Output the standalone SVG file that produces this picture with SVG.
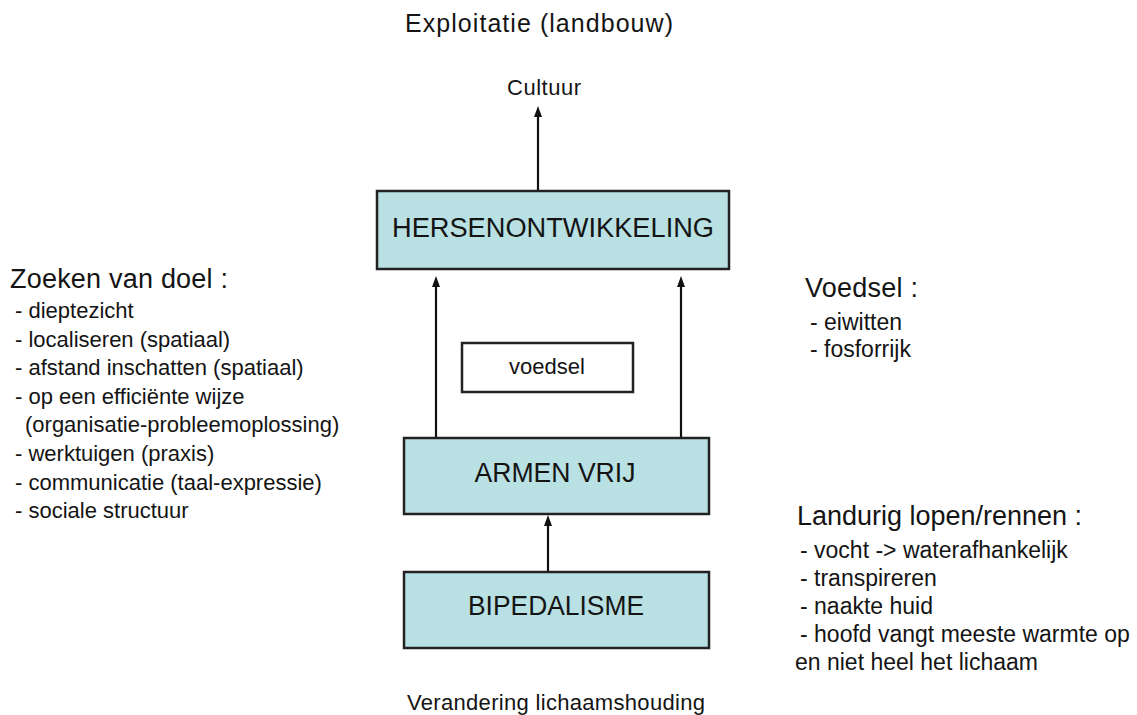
<svg xmlns="http://www.w3.org/2000/svg" width="1137" height="715" viewBox="0 0 1137 715">
<style>
text{font-family:"Liberation Sans",Arial,sans-serif;fill:#141414}
.box{fill:#b9e0e2;stroke:#222;stroke-width:2.5}
.wbox{fill:#fff;stroke:#222;stroke-width:2.5}
.big{font-size:27px}
.head{font-size:27px}
.item{font-size:22px}
.ritem{font-size:23px}
.conn{stroke:#111;stroke-width:2.2;fill:none}
.tip{fill:#111}
</style>
<rect width="1137" height="715" fill="#fff"/>

<g id="connectors">
<line class="conn" x1="538" y1="191" x2="538" y2="115"/>
<path class="tip" d="M538 106 L542 117 L534 117 Z"/>
<line class="conn" x1="436" y1="438" x2="436" y2="285"/>
<path class="tip" d="M436 276 L440 287 L432 287 Z"/>
<line class="conn" x1="681" y1="438" x2="681" y2="285"/>
<path class="tip" d="M681 276 L685 287 L677 287 Z"/>
<line class="conn" x1="548" y1="572" x2="548" y2="524"/>
<path class="tip" d="M548 515 L552 526 L544 526 Z"/>
</g>

<g id="title">
<text x="405" y="32" font-size="25" textLength="268" lengthAdjust="spacing">Exploitatie (landbouw)</text>
</g>
<g id="cultuur">
<text x="507" y="95" font-size="22" textLength="74" lengthAdjust="spacing">Cultuur</text>
</g>

<g id="hersenontwikkeling">
<rect class="box" x="377" y="191" width="352" height="78"/>
<text class="big" x="553" y="237" text-anchor="middle" textLength="322" lengthAdjust="spacingAndGlyphs">HERSENONTWIKKELING</text>
</g>

<g id="voedsel-box">
<rect class="wbox" x="462" y="343" width="171" height="49"/>
<text x="547" y="374" font-size="22" text-anchor="middle">voedsel</text>
</g>

<g id="armen-vrij">
<rect class="box" x="404" y="438" width="305" height="76"/>
<text class="big" x="555" y="482" text-anchor="middle" textLength="161" lengthAdjust="spacingAndGlyphs">ARMEN VRIJ</text>
</g>

<g id="bipedalisme">
<rect class="box" x="404" y="572" width="305" height="76"/>
<text class="big" x="556" y="615" text-anchor="middle" textLength="176" lengthAdjust="spacingAndGlyphs">BIPEDALISME</text>
</g>

<g id="verandering">
<text x="407" y="710" font-size="22" textLength="298" lengthAdjust="spacing">Verandering  lichaamshouding</text>
</g>

<g id="zoeken">
<text class="head" x="10" y="288" textLength="218" lengthAdjust="spacing">Zoeken van doel :</text>
<text class="item" x="15" y="318">- dieptezicht</text>
<text class="item" x="15" y="347">- localiseren (spatiaal)</text>
<text class="item" x="15" y="375">- afstand inschatten (spatiaal)</text>
<text class="item" x="15" y="404">- op een efficiënte wijze</text>
<text class="item" x="25" y="432">(organisatie-probleemoplossing)</text>
<text class="item" x="15" y="461">- werktuigen (praxis)</text>
<text class="item" x="15" y="490">- communicatie (taal-expressie)</text>
<text class="item" x="15" y="518">- sociale structuur</text>
</g>

<g id="voedsel-list">
<text class="head" x="805" y="297" textLength="113" lengthAdjust="spacing">Voedsel :</text>
<text class="ritem" x="810" y="330">- eiwitten</text>
<text class="ritem" x="810" y="357">- fosforrijk</text>
</g>

<g id="landurig">
<text class="head" x="797" y="525" textLength="285" lengthAdjust="spacing">Landurig lopen/rennen :</text>
<text class="ritem" x="800" y="558">- vocht -&gt; waterafhankelijk</text>
<text class="ritem" x="800" y="586">- transpireren</text>
<text class="ritem" x="800" y="614">- naakte huid</text>
<text class="ritem" x="800" y="642">- hoofd vangt meeste warmte op</text>
<text class="ritem" x="795" y="670">en niet heel het lichaam</text>
</g>
</svg>
